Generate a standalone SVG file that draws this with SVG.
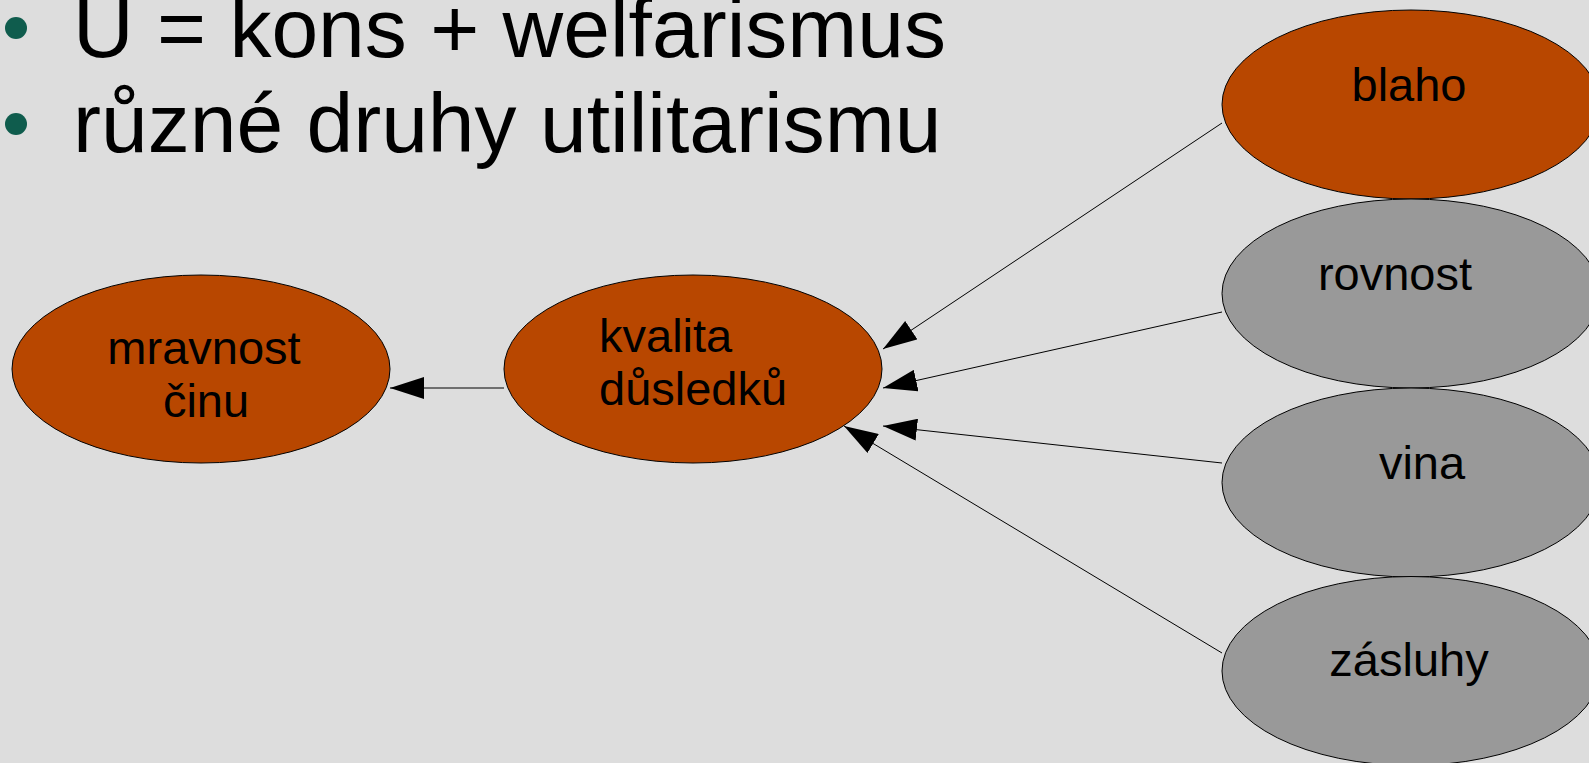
<svg xmlns="http://www.w3.org/2000/svg" width="1589" height="763" viewBox="0 0 1589 763">
<style>
.bg{fill:#dddddd}
.o{fill:#b84700;stroke:#000;stroke-width:1}
.g{fill:#999999;stroke:#000;stroke-width:1}
.t{font-family:"Liberation Sans",Arial,sans-serif;font-size:47px;fill:#000}
.b{font-family:"Liberation Sans",Arial,sans-serif;font-size:84px;fill:#000}
.c{stroke:#000;stroke-width:1;fill:none;marker-end:url(#ah)}
</style>
<defs>
<marker id="ah" markerUnits="userSpaceOnUse" markerWidth="34" markerHeight="22" refX="34" refY="11" orient="auto" viewBox="0 0 34 22">
<path d="M0,0 L34,11 L0,22 Z" fill="#000"/>
</marker>
</defs>
<rect class="bg" x="0" y="0" width="1589" height="763"/>
<g id="bullets">
<circle cx="16" cy="28" r="11" fill="#0f5c4d"/>
<circle cx="16" cy="124" r="11" fill="#0f5c4d"/>
<text class="b" x="73" y="57">U = kons + welfarismus</text>
<text class="b" x="73" y="152">různé druhy utilitarismu</text>
</g>
<g id="connectors">
<line class="c" x1="504" y1="388" x2="390" y2="388"/>
<line class="c" x1="1222" y1="123" x2="883" y2="349"/>
<line class="c" x1="1222" y1="312" x2="883" y2="388"/>
<line class="c" x1="1222" y1="463" x2="883" y2="426"/>
<line class="c" x1="1222" y1="653" x2="844" y2="426"/>
</g>
<g id="mravnost">
<ellipse class="o" cx="201" cy="369" rx="189" ry="94"/>
<text class="t" x="204" y="364" text-anchor="middle">mravnost</text>
<text class="t" x="206" y="417" text-anchor="middle">činu</text>
</g>
<g id="kvalita">
<ellipse class="o" cx="693" cy="369" rx="189" ry="94"/>
<text class="t" x="599" y="352">kvalita</text>
<text class="t" x="599" y="405">důsledků</text>
</g>
<g id="blaho">
<ellipse class="o" cx="1411" cy="104.5" rx="189" ry="94.5"/>
<text class="t" x="1409" y="101" text-anchor="middle">blaho</text>
</g>
<g id="rovnost">
<ellipse class="g" cx="1411" cy="293.5" rx="189" ry="94.5"/>
<text class="t" x="1395" y="290" text-anchor="middle">rovnost</text>
</g>
<g id="vina">
<ellipse class="g" cx="1411" cy="482.5" rx="189" ry="94.5"/>
<text class="t" x="1422" y="479" text-anchor="middle">vina</text>
</g>
<g id="zasluhy">
<ellipse class="g" cx="1411" cy="671" rx="189" ry="94.5"/>
<text class="t" x="1409" y="676" text-anchor="middle">zásluhy</text>
</g>
</svg>
